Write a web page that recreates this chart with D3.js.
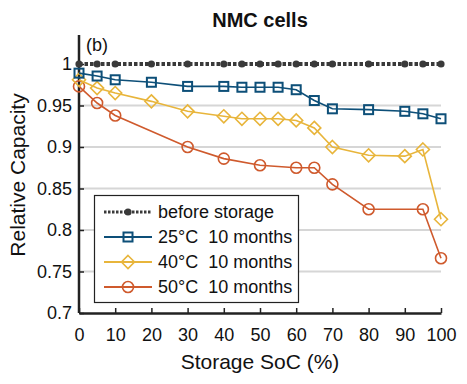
<!DOCTYPE html>
<html><head><meta charset="utf-8">
<script src="https://cdn.jsdelivr.net/npm/d3@7"></script>
<style>body{margin:0;background:#fff}svg{display:block}text{font-family:"Liberation Sans",Arial,sans-serif;fill:#111}</style>
</head><body><div id="chart"></div>
<script>
const soc = [0,5,10,20,30,40,45,50,55,60,65,70,80,90,95,100];
const before = [1,1,1,1,1,1,1,1,1,1,1,1,1,1,1,1];
const soc25 = [0,5,10,20,30,40,45,50,55,60,65,70,80,90,95,100];
const cap25 = [0.989,0.9855,0.981,0.978,0.973,0.973,0.972,0.972,0.972,0.969,0.956,0.946,0.945,0.943,0.940,0.934];
const soc40 = [0,5,10,20,30,40,45,50,55,60,65,70,80,90,95,100];
const cap40 = [0.981,0.971,0.965,0.955,0.943,0.937,0.934,0.934,0.934,0.932,0.923,0.900,0.890,0.889,0.897,0.813];
const soc50 = [0,5,10,30,40,50,60,65,70,80,95,100];
const cap50 = [0.973,0.953,0.938,0.900,0.886,0.878,0.875,0.875,0.855,0.825,0.825,0.766];
const xTicks = [0,10,20,30,40,50,60,70,80,90,100];
const yTicks = [0.7,0.75,0.8,0.85,0.9,0.95,1];
const yTickLabels = ["0.7","0.75","0.8","0.85","0.9","0.95","1"];
const legendLabels = ["before storage","25°C  10 months","40°C  10 months","50°C  10 months"];

const W=467,H=384;
const svg=d3.select("#chart").append("svg").attr("width",W).attr("height",H);
const x=d3.scaleLinear().domain([0,100]).range([79,441]);
const y=d3.scaleLinear().domain([0.7,1]).range([313,64]);
const yTop = y(1.035);

// gridlines
svg.append("g").selectAll("line").data(yTicks.filter(v=>v>0.7&&v<1)).join("line")
  .attr("x1",x(0)).attr("x2",x(100)).attr("y1",d=>y(d)).attr("y2",d=>y(d))
  .attr("stroke","#d6d6d6").attr("stroke-width",2);

// axes
const xAxis=svg.append("g").attr("transform",`translate(0,${y(0.7)})`)
  .call(d3.axisBottom(x).tickValues(xTicks).tickSizeInner(-5).tickSizeOuter(0).tickPadding(14));
xAxis.select(".domain").attr("stroke","#222").attr("stroke-width",2.5);
xAxis.selectAll(".tick line").attr("stroke","#222").attr("stroke-width",1.5);
xAxis.selectAll("text").attr("font-size",18).attr("fill","#111").attr("dy","0.71em").attr("y",15);

const yAxis=svg.append("g").attr("transform",`translate(${x(0)},0)`)
  .call(d3.axisLeft(y).tickValues(yTicks).tickFormat((d,i)=>yTickLabels[i]).tickSizeInner(-5).tickSizeOuter(0).tickPadding(7));
yAxis.select(".domain").attr("d",`M0,${yTop}V${y(0.7)}`).attr("stroke","#222").attr("stroke-width",2.5);
yAxis.selectAll(".tick line").attr("stroke","#222").attr("stroke-width",1.5);
yAxis.selectAll("text").attr("font-size",18).attr("fill","#111");

// series
const colors={before:"#3a3a3a",c25:"#0d4f78",c40:"#e8b53b",c50:"#cf5a2d"};
const line=d3.line().x(d=>x(d[0])).y(d=>y(d[1]));
function zip(a,b){return a.map((v,i)=>[v,b[i]]);}

function drawSquare(g,cx,cy,col){g.append("rect").attr("x",cx-4.5).attr("y",cy-4.5).attr("width",9).attr("height",9).attr("fill","none").attr("stroke",col).attr("stroke-width",2);}
function drawDiamond(g,cx,cy,col){g.append("path").attr("d",`M${cx},${cy-6.5}L${cx+6.5},${cy}L${cx},${cy+6.5}L${cx-6.5},${cy}Z`).attr("fill","none").attr("stroke",col).attr("stroke-width",1.6);}
function drawCircle(g,cx,cy,col){g.append("circle").attr("cx",cx).attr("cy",cy).attr("r",5.5).attr("fill","none").attr("stroke",col).attr("stroke-width",1.6);}
function drawDot(g,cx,cy,col){g.append("circle").attr("cx",cx).attr("cy",cy).attr("r",3.6).attr("fill",col);}

const series=[
 {key:"c50",data:zip(soc50,cap50),m:drawCircle,w:1.6},
 {key:"c40",data:zip(soc40,cap40),m:drawDiamond,w:1.6},
 {key:"c25",data:zip(soc25,cap25),m:drawSquare,w:1.6},
];
series.forEach(s=>{
  const g=svg.append("g");
  g.append("path").datum(s.data).attr("d",line).attr("fill","none").attr("stroke",colors[s.key]).attr("stroke-width",s.w);
  s.data.forEach(d=>s.m(g,x(d[0]),y(d[1]),colors[s.key]));
});
const gb=svg.append("g");
const bd=zip(soc,before);
gb.append("path").datum(bd).attr("d",line).attr("fill","none").attr("stroke",colors.before).attr("stroke-width",4).attr("stroke-dasharray","3.5,2");
bd.forEach(d=>drawDot(gb,x(d[0]),y(d[1]),colors.before));

// legend
const lg=svg.append("g");
lg.append("rect").attr("x",94.5).attr("y",195.5).attr("width",204).attr("height",107).attr("fill","#fff").attr("stroke","#222").attr("stroke-width",1.2);
const rows=[212,237,262,287];
const lx1=104,lx2=152,lm=128;
lg.append("line").attr("x1",lx1).attr("x2",lx2).attr("y1",rows[0]).attr("y2",rows[0]).attr("stroke",colors.before).attr("stroke-width",3).attr("stroke-dasharray","2.5,1.5");
drawDot(lg,lm,rows[0],colors.before);
[["c25",drawSquare],["c40",drawDiamond],["c50",drawCircle]].forEach((p,i)=>{
  const yy=rows[i+1];
  lg.append("line").attr("x1",lx1).attr("x2",lx2).attr("y1",yy).attr("y2",yy).attr("stroke",colors[p[0]]).attr("stroke-width",2);
  p[1](lg,lm,yy,colors[p[0]]);
});
lg.selectAll("text.lt").data(legendLabels).join("text").attr("class","lt")
  .attr("x",158).attr("y",(d,i)=>rows[i]).attr("dy","0.35em").attr("font-size",18)
  .style("white-space","pre").text(d=>d);

// titles
svg.append("text").attr("x",260).attr("y",27).attr("text-anchor","middle").attr("font-size",20).attr("font-weight","bold").text("NMC cells");
svg.append("text").attr("x",86).attr("y",51).attr("font-size",18).text("(b)");
svg.append("text").attr("x",260).attr("y",369).attr("text-anchor","middle").attr("font-size",21).text("Storage SoC (%)");
svg.append("text").attr("transform","translate(25,175) rotate(-90)").attr("text-anchor","middle").attr("font-size",21).text("Relative Capacity");
</script></body></html>
